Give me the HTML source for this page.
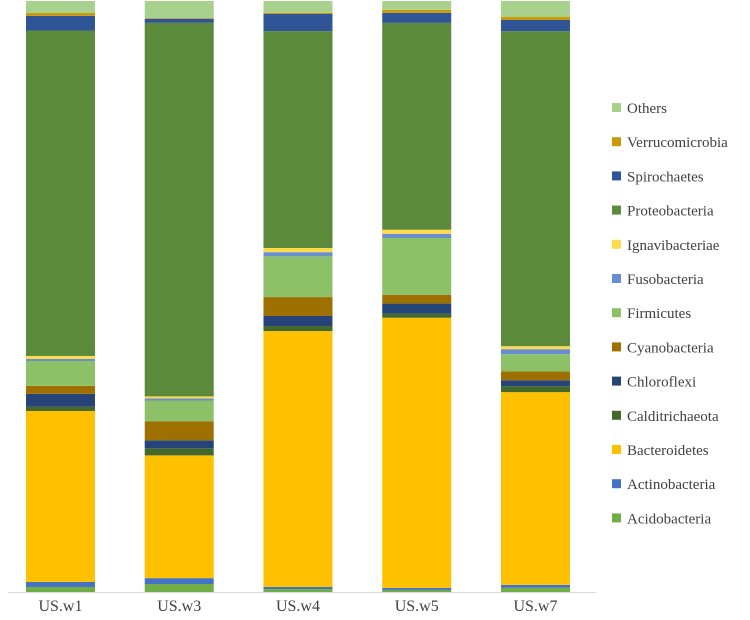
<!DOCTYPE html>
<html><head><meta charset="utf-8"><style>
body{margin:0;background:#fff;}
svg{display:block;font-family:"Liberation Serif",serif;}
</style></head><body>
<svg id="chart" width="750" height="620"></svg>
<script>
const categories=["US.w1","US.w3","US.w4","US.w5","US.w7"];
const seriesNames=["Acidobacteria","Actinobacteria","Bacteroidetes","Calditrichaeota","Chloroflexi","Cyanobacteria","Firmicutes","Fusobacteria","Ignavibacteriae","Proteobacteria","Spirochaetes","Verrucomicrobia","Others"];
const seriesColors=["#70AD47","#4472C4","#FFC000","#43682B","#264478","#9E7000","#8CC168","#698ED0","#FFDA4A","#5A8A3A","#2F5597","#C99A06","#A9D18E"];
const acidobacteria=[0.85,1.35,0.5,0.35,0.7];
const actinobacteria=[0.85,1.0,0.35,0.35,0.5];
const bacteroidetes=[28.9,20.8,43.3,45.7,32.5];
const calditrichaeota=[0.7,1.2,0.85,0.7,1.0];
const chloroflexi=[2.2,1.35,1.7,1.7,1.0];
const cyanobacteria=[1.35,3.2,3.2,1.5,1.5];
const firmicutes=[4.2,3.55,6.9,9.6,2.9];
const fusobacteria=[0.35,0.35,0.7,0.7,0.85];
const ignavibacteriae=[0.5,0.35,0.7,0.7,0.5];
const proteobacteria=[55.0,63.3,36.7,35.0,53.1];
const spirochaetes=[2.5,0.7,2.9,1.7,1.9];
const verrucomicrobia=[0.5,0.1,0.2,0.5,0.5];
const others=[2.0,2.9,2.0,1.5,2.7];
const seriesValues=[acidobacteria,actinobacteria,bacteroidetes,calditrichaeota,chloroflexi,cyanobacteria,firmicutes,fusobacteria,ignavibacteriae,proteobacteria,spirochaetes,verrucomicrobia,others];

const NS="http://www.w3.org/2000/svg";
const svg=document.getElementById('chart');
const plotTop=1,plotBottom=592,axisLeft=8,axisRight=596;
const bandStart=1.1,bandW=118.75;
const barW=69;
function xBand(i){return bandStart+bandW*i+(bandW-barW)/2;}
function yScale(p){return plotBottom-(plotBottom-plotTop)*p/100;}
function mk(t,a){const e=document.createElementNS(NS,t);for(const k in a)e.setAttribute(k,a[k]);svg.appendChild(e);return e;}

categories.forEach((c,i)=>{
  let tot=0;seriesValues.forEach(s=>tot+=s[i]);
  let cum=0;
  seriesValues.forEach((s,j)=>{
    const v=s[i]/tot*100;
    const y0=yScale(cum),y1=yScale(cum+v);
    const r=mk('rect',{x:xBand(i),y:y1,width:barW,height:Math.max(0,y0-y1),fill:seriesColors[j]});
    
    
    cum+=v;
  });
  const t=mk('text',{x:xBand(i)+barW/2,y:611,'text-anchor':'middle','font-size':'16',fill:'#404040'});
  t.textContent=c;
  
  
});
const ax=mk('line',{x1:axisLeft,x2:axisRight,y1:plotBottom+0.5,y2:plotBottom+0.5,stroke:'#D9D9D9','stroke-width':1});



for(let k=0;k<seriesNames.length;k++){
  const j=seriesNames.length-1-k;
  const y=108+k*34.2;
  const g=document.createElementNS(NS,'g');svg.appendChild(g);
  
  
  const r=document.createElementNS(NS,'rect');
  r.setAttribute('x',612);r.setAttribute('y',y-5);r.setAttribute('width',9);r.setAttribute('height',9);r.setAttribute('fill',seriesColors[j]);
  g.appendChild(r);
  const t=document.createElementNS(NS,'text');
  t.setAttribute('x',627);t.setAttribute('y',y+5);t.setAttribute('font-size','15');t.setAttribute('fill','#404040');
  t.textContent=seriesNames[j];
  g.appendChild(t);
}
</script>
</body></html>
